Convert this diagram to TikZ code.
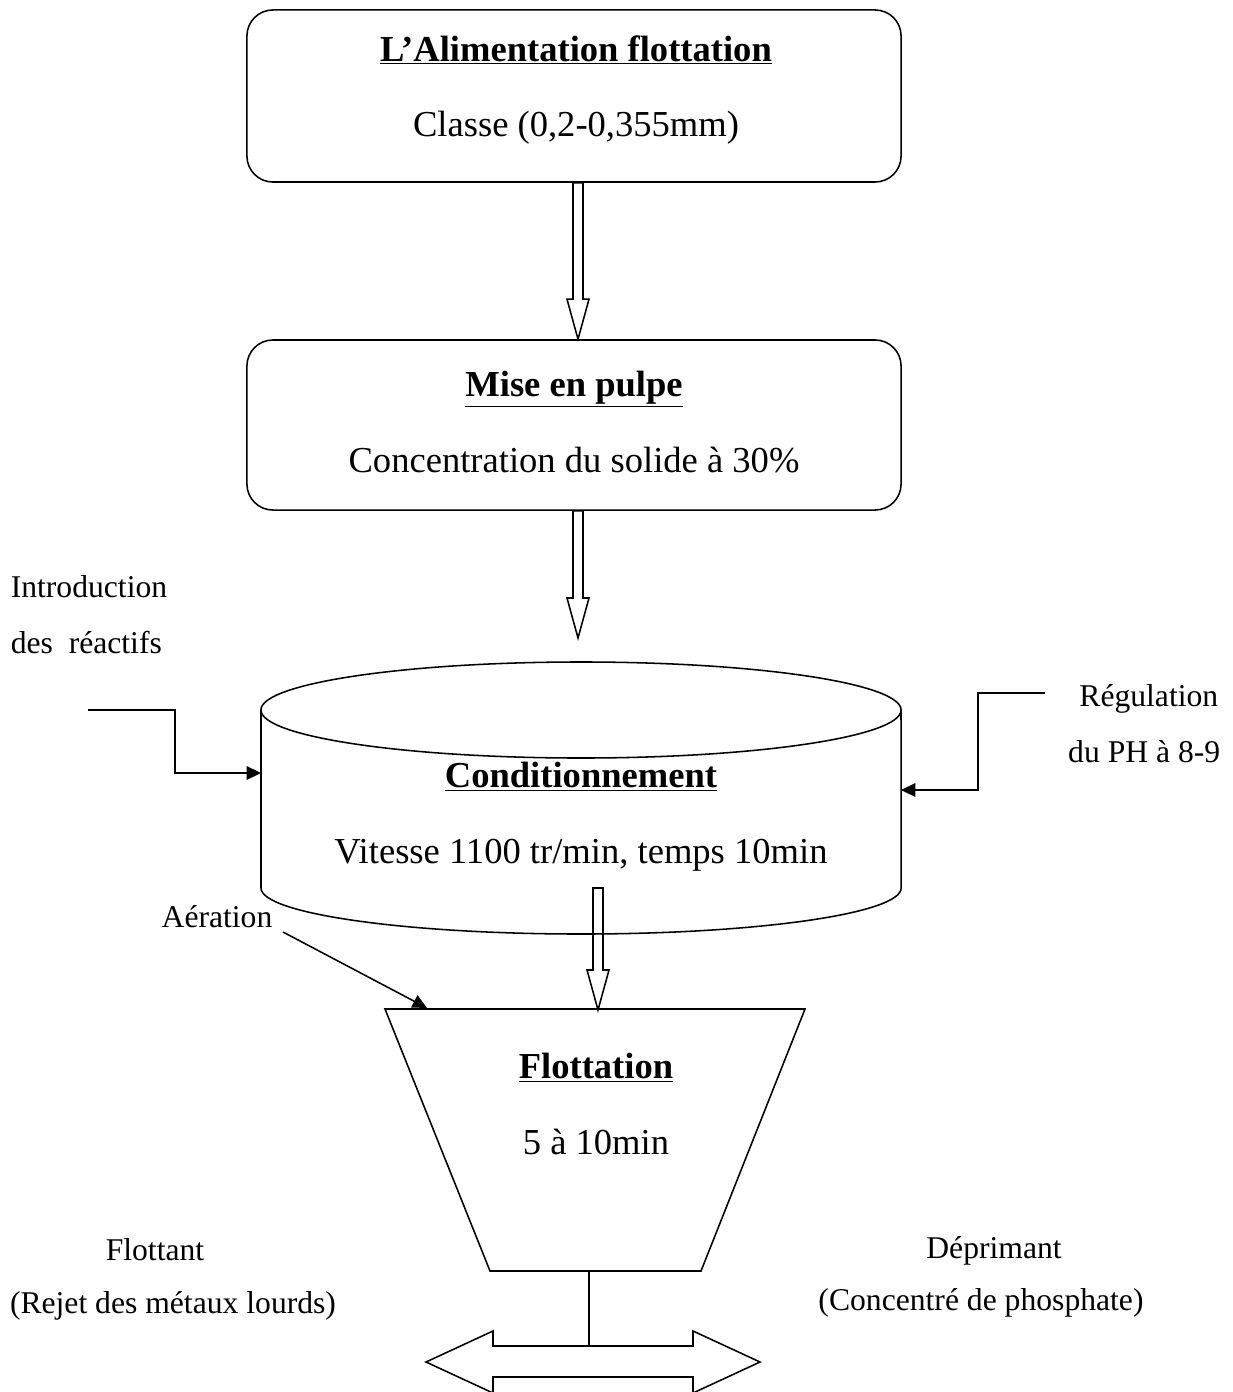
\documentclass[tikz,border=0pt]{standalone}
\usepackage{fontspec}
\setmainfont{Liberation Serif}
\usetikzlibrary{arrows.meta, calc}

% hollow block arrow pointing down, from #1 to the tip #2
\newcommand{\hollowdown}[2]{%
  \draw ($(#1)+(-5,0)$) -- ($(#2)+(-5,40)$) -- ($(#2)+(-11,40)$) -- (#2)
    -- ($(#2)+(11,40)$) -- ($(#2)+(5,40)$) -- ($(#1)+(5,0)$) -- cycle;}

\begin{document}
\begin{tikzpicture}[x=0.025cm, y=0.025cm, line width=1.1pt, >={Triangle[length=3.6mm, width=3.4mm]},
  every node/.style={font=\fontsize{26}{31}\selectfont, inner sep=0pt},
  lbl/.style={font=\fontsize{22.5}{27}\selectfont, anchor=base},
  box/.style={draw, rounded corners=0.65cm, align=center, minimum width=16.35cm}]
  \useasboundingbox (0,0) rectangle (1232,-1392);
  % process blocks
  \node[box, minimum height=4.3cm] (alim) at (574,-96) {};
  \node[align=center] (alimtxt) at (576,-90) {\textbf{\underline{L’Alimentation flottation}}\\[23pt]Classe (0,2-0,355mm)};
  \node[box, minimum height=4.25cm] (pulpe) at (574,-425) {};
  \node[align=center] (pulpetxt) at (574,-422) {\textbf{\underline{Mise en pulpe}}\\[23pt]Concentration du solide à 30\%};
  % conditioning tank
  \draw (261,-710) -- (261,-888) arc[start angle=180, end angle=360, x radius=8cm, y radius=1.15cm] -- (901,-710);
  \draw (581,-710) ellipse [x radius=8cm, y radius=1.2cm];
  \node[align=center] (cond) at (581,-817) {\textbf{\underline{Conditionnement}}\\[23pt]Vitesse 1100 tr/min, temps 10min};
  % flotation cell
  \draw (385,-1009) -- (805,-1009) -- (701,-1271) -- (490,-1271) -- cycle;
  \node[align=center] (flot) at (596,-1104) {\textbf{\underline{Flottation}}\\[23pt]5 à 10min};
  % coordinates for the flows
  \coordinate (a1s) at ($(alim.south)+(4,0)$);
  \coordinate (a1e) at ($(pulpe.north)+(4,0)$);
  \coordinate (a2s) at ($(pulpe.south)+(4,0)$);
  \coordinate (a2e) at (578,-638);
  \coordinate (a3s) at (598,-888);
  \coordinate (a3e) at (598,-1010);
  \coordinate (flotbot) at (589,-1271);
  \coordinate (split) at (589,-1346);
  \coordinate (reac) at (88,-710);
  \coordinate (reacin) at (261,-773);
  \coordinate (ph) at (1045,-693);
  \coordinate (phin) at (901,-790);
  \coordinate (aer) at (283,-932);
  \coordinate (aerin) at (427,-1008);
  \hollowdown{a1s}{a1e}
  \hollowdown{a2s}{a2e}
  \hollowdown{a3s}{a3e}
  % side feeds
  \draw[->] (reac) -| ($(reac)+(87,-63)$) -- (reacin);
  \draw[->] (ph) -| ($(ph)+(-67,-97)$) -- (phin);
  \draw[->] (aer) -- (aerin);
  % outlet
  \draw (flotbot) -- (split);
  \draw (426,-1362) -- (493,-1331) -- (493,-1346) -- (693,-1346) -- (693,-1331) -- (760,-1362)
    -- (693,-1393) -- (693,-1377) -- (493,-1377) -- (493,-1393) -- cycle;
  % labels
  \node[lbl, anchor=base west] (intro1) at (10,-597) {Introduction};
  \node[lbl, anchor=base west] (intro2) at (10,-653) {des \ réactifs};
  \node[lbl, anchor=base east] (regul1) at (1219,-706) {Régulation};
  \node[lbl, anchor=base east] (regul2) at (1221,-762) {du PH à 8-9};
  \node[lbl] (aertxt) at (217,-927) {Aération};
  \node[lbl] (flottant1) at (155,-1260) {Flottant};
  \node[lbl] (flottant2) at (173,-1313) {(Rejet des métaux lourds)};
  \node[lbl] (depri1) at (994,-1258) {Déprimant};
  \node[lbl] (depri2) at (981,-1310) {(Concentré de phosphate)};
\end{tikzpicture}
\end{document}
